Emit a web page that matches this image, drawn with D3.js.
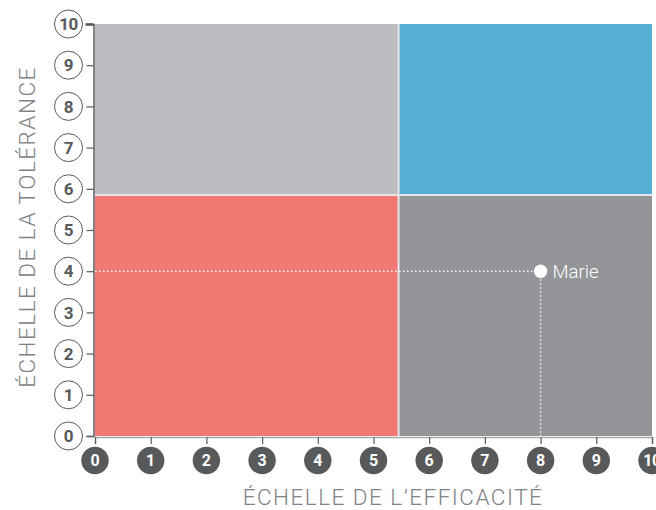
<!DOCTYPE html>
<html><head><meta charset="utf-8">
<script src="https://cdn.jsdelivr.net/npm/d3@7"></script>
<style>body{margin:0;background:#fff}svg{display:block}</style>
</head><body>
<svg id="c" width="656" height="510"></svg>
<script>
const xTicks = [0,1,2,3,4,5,6,7,8,9,10];
const yTicks = [0,1,2,3,4,5,6,7,8,9,10];
const xSplit = 5.45, ySplit = 5.85;
const quadrants = [
  {name:"hautGauche", x0:0, x1:xSplit, y0:ySplit, y1:10, color:"#bcbcc0"},
  {name:"hautDroite", x0:xSplit, x1:10, y0:ySplit, y1:10, color:"#56b0d5"},
  {name:"basGauche", x0:0, x1:xSplit, y0:0, y1:ySplit, color:"#f27874"},
  {name:"basDroite", x0:xSplit, x1:10, y0:0, y1:ySplit, color:"#939598"}
];
const points = [{label:"Marie", x:8, y:4}];
const xTitle = "ÉCHELLE DE L’EFFICACITÉ";
const yTitle = "ÉCHELLE DE LA TOLÉRANCE";

const svg = d3.select("#c");
const x = d3.scaleLinear().domain([0,10]).range([95,652]);
const y = d3.scaleLinear().domain([0,10]).range([436,24]);

svg.append("g").selectAll("rect").data(quadrants).join("rect")
  .attr("x", d=>x(d.x0)).attr("y", d=>y(d.y1))
  .attr("width", d=>x(d.x1)-x(d.x0)).attr("height", d=>y(d.y0)-y(d.y1))
  .attr("fill", d=>d.color);

// dividers
svg.append("line").attr("x1",x(xSplit)).attr("x2",x(xSplit)).attr("y1",y(10)).attr("y2",y(0))
  .attr("stroke","#e6e6e8").attr("stroke-width",2);
svg.append("line").attr("x1",x(0)).attr("x2",x(10)).attr("y1",y(ySplit)).attr("y2",y(ySplit))
  .attr("stroke","#e6e6e8").attr("stroke-width",2);

// guides
const gp = svg.append("g");
points.forEach(p=>{
  gp.append("line").attr("x1",x(0)).attr("x2",x(p.x)).attr("y1",y(p.y)).attr("y2",y(p.y))
    .attr("stroke","#f0f0f0").attr("stroke-width",1.6).attr("stroke-dasharray","1.6,2.4");
  gp.append("line").attr("x1",x(p.x)).attr("x2",x(p.x)).attr("y1",y(p.y)).attr("y2",y(0))
    .attr("stroke","#f0f0f0").attr("stroke-width",1.6).attr("stroke-dasharray","1.6,2.4");
  gp.append("circle").attr("cx",x(p.x)).attr("cy",y(p.y)).attr("r",6.7).attr("fill","#fff");
  gp.append("text").attr("x",x(p.x)+12).attr("y",y(p.y)).attr("dy","0.36em")
    .attr("fill","#fff").attr("font-family","Roboto").attr("font-weight",300).attr("font-size",18.5)
    .text(p.label);
});

// y axis
const ya = svg.append("g").attr("transform",`translate(${x(0)-1.5},0)`)
  .call(d3.axisLeft(y).tickValues(yTicks).tickSize(7).tickFormat(""));
ya.select(".domain").attr("stroke","#58595b").attr("stroke-width",1.5);
ya.selectAll(".tick line").attr("stroke","#58595b").attr("stroke-width",1.2);
ya.selectAll(".tick").filter(d=>d===10).select("line").attr("stroke-width",2.5).attr("x2",-8);

const yl = svg.append("g").selectAll("g").data(yTicks).join("g")
  .attr("transform", d=>`translate(68.5,${y(d)})`);
yl.append("circle").attr("r",14).attr("fill","#fff").attr("stroke","#58595b").attr("stroke-width",1);
yl.append("text").attr("text-anchor","middle").attr("dy","0.36em")
  .attr("font-family","Roboto").attr("font-weight",700).attr("font-size",17)
  .attr("letter-spacing",d=>d===10?-0.5:0)
  .attr("fill","#58595b").text(d=>d);

// x axis
const xa = svg.append("g").attr("transform",`translate(0,${y(0)+1})`)
  .call(d3.axisBottom(x).tickValues(xTicks).tickSize(7).tickFormat(""));
xa.select(".domain").attr("stroke","#a7a9ac").attr("stroke-width",1.5);
xa.selectAll(".tick line").attr("stroke","#58595b").attr("stroke-width",1.2);

const xl = svg.append("g").selectAll("g").data(xTicks).join("g")
  .attr("transform", d=>`translate(${x(d)},460.5)`);
xl.append("circle").attr("r",13.7).attr("fill","#58595b");
xl.append("text").attr("text-anchor","middle").attr("dy","0.36em")
  .attr("font-family","Roboto").attr("font-weight",700).attr("font-size",16)
  .attr("letter-spacing",d=>d===10?-0.5:0)
  .attr("fill","#fff").text(d=>d);

// titles
svg.append("text").attr("x",393).attr("y",505).attr("text-anchor","middle")
  .attr("font-family","Roboto").attr("font-weight",300).attr("font-size",22.5)
  .attr("letter-spacing",1.5).attr("fill","#808285")
  .text(xTitle);
svg.append("text").attr("transform","translate(35,227) rotate(-90)").attr("text-anchor","middle")
  .attr("font-family","Roboto").attr("font-weight",300).attr("font-size",22.5)
  .attr("letter-spacing",1.5).attr("fill","#808285")
  .text(yTitle);
</script>
</body></html>
